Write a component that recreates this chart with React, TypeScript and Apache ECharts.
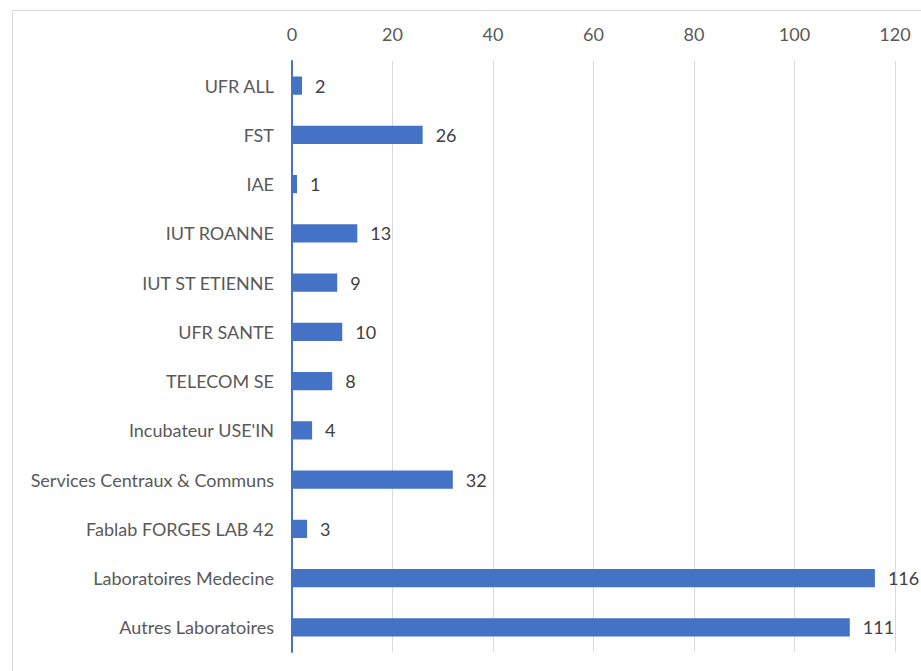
import React, { useEffect, useRef } from "react";
import * as echarts from "echarts";

const categories = [
  "UFR ALL",
  "FST",
  "IAE",
  "IUT ROANNE",
  "IUT ST ETIENNE",
  "UFR SANTE",
  "TELECOM SE",
  "Incubateur USE'IN",
  "Services Centraux & Communs",
  "Fablab FORGES LAB 42",
  "Laboratoires Medecine",
  "Autres Laboratoires",
];
const values = [2, 26, 1, 13, 9, 10, 8, 4, 32, 3, 116, 111];
const xTicks = { min: 0, max: 120, interval: 20 };

export default function App() {
  const ref = useRef<HTMLDivElement>(null);
  useEffect(() => {
    if (!ref.current) return;
    const chart = echarts.init(ref.current, undefined, { renderer: "svg" });
    const font = "Lato";
    chart.setOption({
      animation: false,
      backgroundColor: "#ffffff",
      graphic: [
        {
          type: "rect",
          shape: { x: 12.5, y: 10.5, width: 920, height: 680 },
          style: { fill: "none", stroke: "#d9d9d9", lineWidth: 1 },
          silent: true,
        },
      ],
      grid: { left: 292, right: 26, top: 61, bottom: 19, containLabel: false },
      xAxis: {
        type: "value",
        position: "top",
        min: xTicks.min,
        max: xTicks.max,
        interval: xTicks.interval,
        axisLine: { show: false },
        axisTick: { show: false },
        splitLine: { lineStyle: { color: "#d9d9d9", width: 1 } },
        axisLabel: { color: "#595959", fontSize: 18, fontFamily: font, margin: 18 },
      },
      yAxis: {
        type: "category",
        inverse: true,
        data: categories,
        axisLine: { show: true, lineStyle: { color: "#4472C4", width: 2 } },
        axisTick: { show: false },
        axisLabel: { color: "#595959", fontSize: 18, fontFamily: font, margin: 18 },
      },
      series: [
        {
          type: "bar",
          data: values,
          barCategoryGap: "63%",
          itemStyle: { color: "#4472C4" },
          label: {
            show: true,
            position: "right",
            distance: 13,
            color: "#404040",
            fontSize: 18,
            fontFamily: font,
          },
        },
      ],
    });
    return () => chart.dispose();
  }, []);
  return (
    <div
      ref={ref}
      style={{ position: "fixed", left: 0, top: 0, width: 921, height: 671 }}
    />
  );
}
